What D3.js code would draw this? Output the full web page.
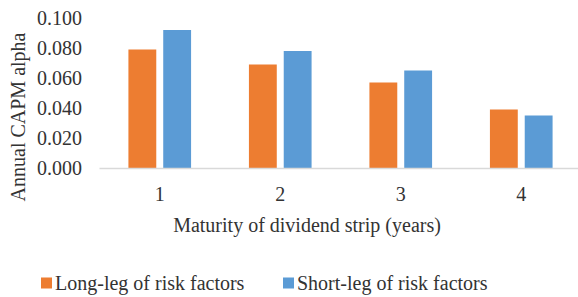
<!DOCTYPE html>
<html>
<head>
<meta charset="utf-8">
<script src="https://cdn.jsdelivr.net/npm/d3@7"></script>
<style>
  body { margin: 0; background: #fff; }
  text { font-family: "Liberation Serif", "Times New Roman", serif; fill: #333; }
</style>
</head>
<body>
<div id="chart"></div>
<script>
var maturities = ["1", "2", "3", "4"];
var seriesNames = ["Long-leg of risk factors", "Short-leg of risk factors"];
var longLeg = [0.079, 0.069, 0.057, 0.039];
var shortLeg = [0.092, 0.078, 0.065, 0.035];
var yTicks = [0, 0.02, 0.04, 0.06, 0.08, 0.1];

var width = 578, height = 297;

var svg = d3.select("#chart")
    .append("svg")
    .attr("width", width)
    .attr("height", height);

var x = d3.scaleBand()
    .domain(maturities)
    .range([99.5, 581.5]);

var inner = d3.scaleBand()
    .domain(seriesNames)
    .range([x.bandwidth() * 0.24, x.bandwidth() * 0.76])
    .paddingInner(0.2);

var y = d3.scaleLinear()
    .domain([0, 0.1])
    .range([168, 18]);

var color = d3.scaleOrdinal()
    .domain(seriesNames)
    .range(["#ed7d31", "#5b9bd5"]);

var rows = maturities.map((m, i) => ({ m: m, vals: [longLeg[i], shortLeg[i]] }));

// bars
var groups = svg.selectAll(".grp")
    .data(rows)
    .enter()
    .append("g")
    .attr("transform", d => "translate(" + x(d.m) + ",0)");

groups.selectAll("rect")
    .data(d => d.vals.map((v, j) => ({ key: seriesNames[j], v: v })))
    .enter()
    .append("rect")
    .attr("x", d => inner(d.key))
    .attr("width", inner.bandwidth())
    .attr("y", d => y(d.v))
    .attr("height", d => y(0) - y(d.v))
    .attr("fill", d => color(d.key));

// baseline
svg.append("line")
    .attr("x1", 99.5).attr("x2", 578)
    .attr("y1", y(0) + 0.5).attr("y2", y(0) + 0.5)
    .attr("stroke", "#d9d9d9")
    .attr("stroke-width", 1.5);

// y tick labels
svg.selectAll(".ytick")
    .data(yTicks)
    .enter()
    .append("text")
    .attr("x", 82)
    .attr("y", d => y(d))
    .attr("dy", "0.35em")
    .attr("text-anchor", "end")
    .style("font-size", "20px")
    .text(d => d3.format(".3f")(d));

// x tick labels
svg.selectAll(".xtick")
    .data(maturities)
    .enter()
    .append("text")
    .attr("x", d => x(d) + x.bandwidth() / 2)
    .attr("y", 194)
    .attr("dy", "0.35em")
    .attr("text-anchor", "middle")
    .style("font-size", "20px")
    .text(d => d);

// axis titles
svg.append("text")
    .attr("x", 307)
    .attr("y", 225)
    .attr("dy", "0.35em")
    .attr("text-anchor", "middle")
    .style("font-size", "20px")
    .text("Maturity of dividend strip (years)");

svg.append("text")
    .attr("transform", "translate(18,117)rotate(-90)")
    .attr("dy", "0.35em")
    .attr("text-anchor", "middle")
    .style("font-size", "20px")
    .text("Annual CAPM alpha");

// legend
var legend = svg.selectAll(".leg")
    .data(seriesNames)
    .enter()
    .append("g")
    .attr("transform", (d, i) => "translate(" + [41, 283][i] + ",283)");

legend.append("rect")
    .attr("x", 0).attr("y", -5.5)
    .attr("width", 11).attr("height", 11)
    .attr("fill", d => color(d));

legend.append("text")
    .attr("x", 14)
    .attr("dy", "0.35em")
    .style("font-size", "20px")
    .text(d => d);
</script>
</body>
</html>
